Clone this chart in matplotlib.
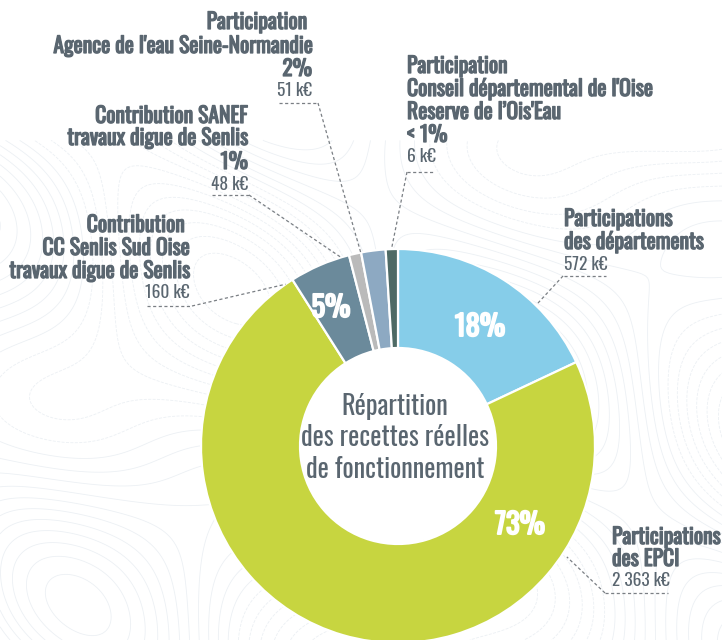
import matplotlib
matplotlib.use("Agg")
import matplotlib.pyplot as plt
import matplotlib.font_manager as fm
import matplotlib.patheffects as pe
import numpy as np

# ---------------- data ----------------
categories = [
    "Participations des départements",
    "Participations des EPCI",
    "Contribution CC Senlis Sud Oise travaux digue de Senlis",
    "Contribution SANEF travaux digue de Senlis",
    "Participation Agence de l'eau Seine-Normandie",
    "Participation Conseil départemental de l'Oise Reserve de l'Ois'Eau",
]
amounts_keur = [572, 2363, 160, 48, 51, 6]
shares_pct = [18, 73, 5, 1, 2, 1]          # displayed shares (<1% drawn as 1)
pct_labels = ["18%", "73%", "5%", "1%", "2%", "< 1%"]
amount_labels = ["572 k€", "2 363 k€", "160 k€", "48 k€", "51 k€", "6 k€"]
colors = ["#86CDE9", "#C7D540", "#6B8A9B", "#BABABA", "#8DA9C2", "#4E6A65"]

# ---------------- fonts ----------------
avail = {f.name for f in fm.fontManager.ttflist}
cands = ["Oswald", "Roboto Condensed", "Barlow Condensed", "Liberation Sans Narrow", "Roboto"]
FONT = next(c for c in cands if c in avail)
plt.rcParams["font.family"] = [FONT, "DejaVu Sans"]

TXT = "#5A6670"
LINE = "#7A7F84"

W, H = 722, 640
fig = plt.figure(figsize=(W / 100, H / 100), dpi=100)
ax = fig.add_axes([0, 0, 1, 1])
ax.axis("off")


def Y(py):
    return H - py


# faint topographic background decoration
gx, gy = np.meshgrid(np.linspace(0, W, 300), np.linspace(0, H, 270))
field = (np.sin(gx / 90.0 + gy / 140.0) + 0.8 * np.cos(gx / 130.0 - gy / 70.0)
         + 0.5 * np.sin((gx + gy) / 55.0))
mask = gy > H - 140
field = np.ma.array(field, mask=mask)
ax.contour(gx, gy, field, levels=22, colors="#ECF0F4", linewidths=0.6, zorder=0)

cx, cy = 398, Y(446)
R_OUT, R_IN = 197, 98

wedges, _ = ax.pie(shares_pct, colors=colors, startangle=90, counterclock=False,
                   radius=R_OUT, center=(cx, cy),
                   wedgeprops=dict(width=R_OUT - R_IN, edgecolor="white", linewidth=1.6))
ax.add_patch(plt.Circle((cx, cy), R_IN - 0.5, color="white", zorder=1.5))
ax.set_xlim(0, W)
ax.set_ylim(0, H)
ax.set_aspect("equal")


def bold_fx(col, w):
    return [pe.withStroke(linewidth=w, foreground=col)]


# inner percent labels
big = dict(color="white", fontsize=20.5, ha="center", va="center",
           path_effects=bold_fx("white", 1.4), zorder=5)
ax.text(480, Y(327), pct_labels[0], **big)
ax.text(520, Y(525), pct_labels[1], **big)
ax.text(331, Y(308), pct_labels[2], **big)

# centre title
ax.text(395, Y(438), "Répartition\ndes recettes réelles\nde fonctionnement",
        color=TXT, fontsize=19, ha="center", va="center", linespacing=1.2, zorder=5)


def pt_on_ring(deg_cw_from_top, r):
    a = np.deg2rad(90 - deg_cw_from_top)
    return cx + r * np.cos(a), cy + r * np.sin(a)


def block(x, ys, lines, weights, ha):
    for y, s, w in zip(ys, lines, weights):
        if w == "bold":
            ax.text(x, Y(y), s, color=TXT, fontsize=15.6, ha=ha, va="center",
                    path_effects=bold_fx(TXT, 0.9), zorder=5)
        else:
            ax.text(x, Y(y), s, color=TXT, fontsize=12.5, ha=ha, va="center", zorder=5)


def leader(hx0, hx1, hy, elbow_x, ang, r):
    ex, ey = pt_on_ring(ang, r)
    ax.plot([hx0, hx1], [Y(hy), Y(hy)], ls=(0, (2.5, 2)), color=LINE, lw=0.9, zorder=4)
    ax.plot([elbow_x, ex], [Y(hy), ey], ls=(0, (2.5, 2)), color=LINE, lw=0.9, zorder=4)


# Agence de l'eau
block(312, [22, 46, 69, 91],
      ["Participation ", "Agence de l'eau Seine-Normandie", pct_labels[4], amount_labels[4]],
      ["bold", "bold", "bold", "normal"], "right")
leader(279, 318, 103, 318, -10.9, R_OUT)

# Oise
block(407, [66, 89, 112, 135, 157],
      ["Participation", "Conseil départemental de l'Oise", "Reserve de l’Ois'Eau",
       pct_labels[5], amount_labels[5]],
      ["bold", "bold", "bold", "bold", "normal"], "left")
leader(407, 435, 172, 407, -1.9, R_OUT)

# SANEF
block(248, [116, 138, 162, 184],
      ["Contribution SANEF", "travaux digue de Senlis", pct_labels[3], amount_labels[3]],
      ["bold", "bold", "bold", "normal"], "right")
leader(212, 249, 195, 249, -16.8, R_OUT)

# CC Senlis Sud Oise
block(190, [225, 248, 271, 292],
      ["Contribution ", "CC Senlis Sud Oise", "travaux digue de Senlis", amount_labels[2]],
      ["bold", "bold", "bold", "normal"], "right")
leader(147, 192, 306, 192, -34.8, R_OUT)

# départements
block(564, [219, 242, 264],
      ["Participations", "des départements", amount_labels[0]],
      ["bold", "bold", "normal"], "left")
leader(564, 606, 276, 563, 44.4, R_OUT + 3)

# EPCI
block(612, [537, 559, 581],
      ["Participations", "des EPCI", amount_labels[1]],
      ["bold", "bold", "normal"], "left")
leader(605, 668, 593, 605, 123.3, R_OUT + 5)

fig.savefig("out.png", dpi=100)
